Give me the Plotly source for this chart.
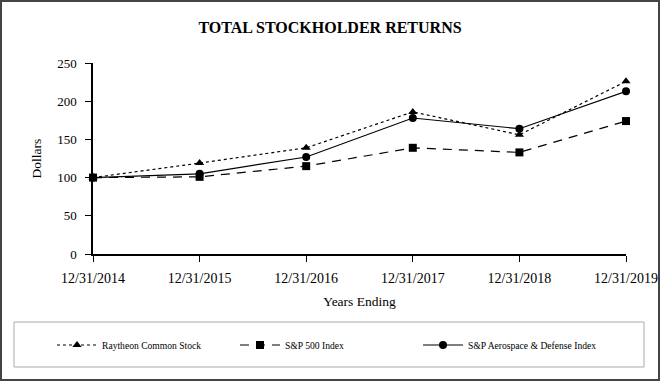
import plotly.graph_objects as go

years = ["12/31/2014", "12/31/2015", "12/31/2016", "12/31/2017", "12/31/2018", "12/31/2019"]
raytheon = [100, 119, 139, 186, 156, 226]
sp500 = [100, 101, 115, 139, 133, 174]
aero = [100, 105, 127, 178, 164, 213]

xs = list(range(len(years)))
FONT = "Liberation Serif, Times New Roman, serif"

fig = go.Figure()
fig.add_trace(go.Scatter(x=xs, y=raytheon, name="Raytheon Common Stock", mode="lines+markers",
                         line=dict(color="black", width=1.2, dash="dot"),
                         marker=dict(symbol="triangle-up", size=8, color="black"), cliponaxis=False))
fig.add_trace(go.Scatter(x=xs, y=sp500, name="S&P 500 Index", mode="lines+markers",
                         line=dict(color="black", width=1.2, dash="9px,7px"),
                         marker=dict(symbol="square", size=8, color="black"), cliponaxis=False))
fig.add_trace(go.Scatter(x=xs, y=aero, name="S&P Aerospace & Defense Index", mode="lines+markers",
                         line=dict(color="black", width=1.2),
                         marker=dict(symbol="circle", size=8, color="black"), cliponaxis=False))

L, R, T, B = 93, 34, 63, 127
W, H = 660, 381
pw, ph = W - L - R, H - T - B

def px(x):
    return (x - L) / pw

def py(y):
    return (H - B - y) / ph

fig.update_layout(
    width=W, height=H,
    margin=dict(l=L, r=R, t=T, b=B, autoexpand=False),
    paper_bgcolor="white", plot_bgcolor="white",
    font=dict(family=FONT, color="black", size=13),
    title=dict(text="<b>TOTAL STOCKHOLDER RETURNS</b>", x=0.5, xanchor="center",
               y=1 - 27 / H, yanchor="middle", font=dict(size=16, family=FONT)),
    showlegend=True,
    legend=dict(orientation="h", x=px(52), y=py(345), xanchor="left", yanchor="middle",
                font=dict(size=9.6, family=FONT), entrywidth=128, bgcolor="rgba(0,0,0,0)",
                traceorder="normal", itemwidth=40),
    xaxis=dict(range=[0, 5], tickmode="array", tickvals=xs, ticktext=years,
               showline=True, linecolor="black", linewidth=1.5, ticks="outside",
               ticklen=6, tickcolor="black", showgrid=False, zeroline=False,
               ticklabelstandoff=4, automargin=False,
               title=dict(text="Years Ending", font=dict(size=13.5), standoff=12),
               tickfont=dict(size=14)),
    yaxis=dict(range=[0, 250], tickvals=[0, 50, 100, 150, 200, 250],
               showline=True, linecolor="black", linewidth=1.5, ticks="outside",
               ticklen=6, tickcolor="black", showgrid=False, zeroline=False,
               ticklabelstandoff=6, automargin=False,
               title=dict(text="Dollars", font=dict(size=13.5), standoff=12),
               tickfont=dict(size=13)),
    shapes=[
        dict(type="rect", xref="paper", yref="paper", x0=px(14), x1=px(644), y0=py(367), y1=py(322),
             line=dict(color="#aaaaaa", width=1)),
        dict(type="rect", xref="paper", yref="paper", x0=px(1), x1=px(659), y0=py(380), y1=py(1),
             line=dict(color="#444444", width=2)),
    ],
)

fig.write_html("out.html", config={"displayModeBar": False},
               post_script="document.body.style.margin='0';document.body.style.overflow='hidden';")
